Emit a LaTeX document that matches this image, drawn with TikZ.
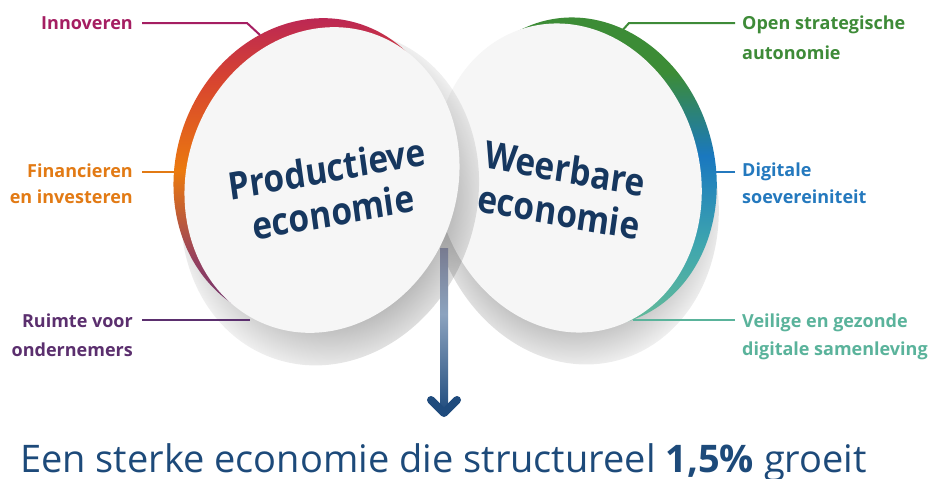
\documentclass[tikz,border=0pt]{standalone}
\usepackage{fontspec}
\setmainfont{Open Sans}
\usetikzlibrary{fadings}
\definecolor{navy}{HTML}{16375F}
\definecolor{goalcol}{HTML}{1D4A7A}
\definecolor{facecol}{HTML}{F6F6F6}
\definecolor{cinno}{HTML}{A51E62}
\definecolor{cfin}{HTML}{E27A14}
\definecolor{cruim}{HTML}{5B2F6E}
\definecolor{copen}{HTML}{3E8B38}
\definecolor{cdig}{HTML}{2479BE}
\definecolor{cveil}{HTML}{5AB39B}
\definecolor{lrtop}{HTML}{B41F5E}
\definecolor{lrred}{HTML}{D8452F}
\definecolor{lrorange}{HTML}{EB7A0E}
\definecolor{lrmauve}{HTML}{95405F}
\definecolor{lrbot}{HTML}{5A2D78}
\definecolor{rrgreen}{HTML}{3C8C36}
\definecolor{rrblue}{HTML}{1A78BF}
\definecolor{rrteal}{HTML}{3FA6AE}
\definecolor{rrbot}{HTML}{6CBF94}
\definecolor{artop}{HTML}{787B90}
\definecolor{arlight}{HTML}{8CA3BF}
\definecolor{arbot}{HTML}{1F4B7D}
\pgfdeclareverticalshading{leftrimshade}{100bp}{color(0bp)=(lrbot); color(25bp)=(lrbot); color(37bp)=(lrmauve); color(50bp)=(lrorange); color(63bp)=(lrred); color(75bp)=(lrtop); color(100bp)=(lrtop)}
\pgfdeclareverticalshading{rightrimshade}{100bp}{color(0bp)=(rrbot); color(25bp)=(rrbot); color(40bp)=(rrteal); color(54bp)=(rrblue); color(67bp)=(rrgreen); color(100bp)=(rrgreen)}
\pgfdeclareverticalshading{arrowshade}{100bp}{color(0bp)=(arbot); color(25bp)=(arbot); color(55bp)=(arlight); color(75bp)=(artop); color(100bp)=(artop)}
\pgfdeclareradialshading{softshadowshade}{\pgfpointorigin}{color(0bp)=(pgftransparent!0); color(15bp)=(pgftransparent!0); color(25bp)=(pgftransparent!100); color(50bp)=(pgftransparent!100)}
\pgfdeclarefading{softshadow}{\pgfuseshading{softshadowshade}}
\newcommand{\lblR}[3]{\begin{tabular}[t]{@{}r@{}}#1\\[#3]#2\end{tabular}}
\newcommand{\lblL}[3]{\begin{tabular}[t]{@{}l@{}}#1\\[#3]#2\end{tabular}}
\tikzset{
  conn/.style={line width=2pt},
  lbl/.style={inner sep=0pt, font=\bfseries\fontsize{18}{25}\selectfont},
  disktxt/.style={font=\bfseries\fontsize{38}{44}\selectfont, text=navy, align=center, inner sep=0pt, xscale=0.88},
  diskshadow/.style={black, fill opacity=0.32, path fading=softshadow},
}
\begin{document}
\begin{tikzpicture}[x=1pt,y=-1pt]
\useasboundingbox (0,0) rectangle (934,479);
\fill[white] (0,0) rectangle (934,479);
% right disk
\begin{scope}[shift={(574,196)},rotate=15]
  \fill[diskshadow] (0,0) ellipse [x radius=143, y radius=170];
\end{scope}
\begin{scope}[shift={(583,172)},rotate=15]
  \shade[shading=rightrimshade] (0,0) ellipse [x radius=132, y radius=156];
\end{scope}
\begin{scope}[shift={(568,178)},rotate=15]
  \fill[facecol] (0,0) ellipse [x radius=132, y radius=156];
\end{scope}
\node[disktxt, rotate=-9] (wtxt) at (562,190) {Weerbare\\economie};
% left disk
\begin{scope}[shift={(330,198)},rotate=-20]
  \fill[diskshadow] (0,0) ellipse [x radius=146, y radius=170];
\end{scope}
\begin{scope}[shift={(311,171)},rotate=-20]
  \shade[shading=leftrimshade] (0,0) ellipse [x radius=135, y radius=155];
\end{scope}
\begin{scope}[shift={(322,180)},rotate=-20]
  \fill[facecol] (0,0) ellipse [x radius=135, y radius=155];
\end{scope}
\node[disktxt, rotate=9] (ptxt) at (330,190) {Productieve\\economie};
% arrow
\coordinate (arrTop) at (444,248);
\coordinate (arrTip) at (444,413);
\shade[shading=arrowshade] ([xshift=-4pt]arrTop) rectangle ([xshift=4pt]arrTip);
\draw[line width=8pt, arbot, line cap=round, line join=round] ([shift={(-13,-13)}]arrTip) -- (arrTip) -- ([shift={(13,-13)}]arrTip);
% labels
\node[lbl, anchor=base east, text=cinno] (inno) at (133,29) {Innoveren};
\node[lbl, anchor=base east, text=cfin] (fin) at (133,177.7) {\lblR{Financieren}{en investeren}{0.6pt}};
\node[lbl, anchor=base east, text=cruim] (ruim) at (133,327) {\lblR{Ruimte voor}{ondernemers}{4.7pt}};
\node[lbl, anchor=base west, text=copen] (open) at (742,29.3) {\lblL{Open strategische}{autonomie}{5pt}};
\node[lbl, anchor=base west, text=cdig] (dig) at (742,176.7) {\lblL{Digitale}{soevereiniteit}{1.6pt}};
\node[lbl, anchor=base west, text=cveil] (veil) at (742,327) {\lblL{Veilige en gezonde}{digitale samenleving}{3pt}};
% connectors
\coordinate (innS) at (142,23); \coordinate (innK) at (247,23); \coordinate (innE) at (260,35);
\draw[conn, cinno] (innS) -- (innK) -- (innE);
\coordinate (finS) at (142,172); \coordinate (finE) at (174,172);
\draw[conn, cfin] (finS) -- (finE);
\coordinate (ruimS) at (142,320); \coordinate (ruimE) at (250,320);
\draw[conn, cruim] (ruimS) -- (ruimE);
\coordinate (openS) at (735,23); \coordinate (openK) at (629,23); \coordinate (openE) at (620,33);
\draw[conn, copen] (openS) -- (openK) -- (openE);
\coordinate (digS) at (735,172); \coordinate (digE) at (715,172);
\draw[conn, cdig] (digS) -- (digE);
\coordinate (veilS) at (735,320); \coordinate (veilE) at (633,320);
\draw[conn, cveil] (veilS) -- (veilE);
% goal text
\node[anchor=base west, inner sep=0pt, text=goalcol, font=\fontsize{38}{44}\selectfont] (goal) at (20,472) {Een sterke economie die structureel \textbf{1,5\%} groeit};
\end{tikzpicture}
\end{document}
